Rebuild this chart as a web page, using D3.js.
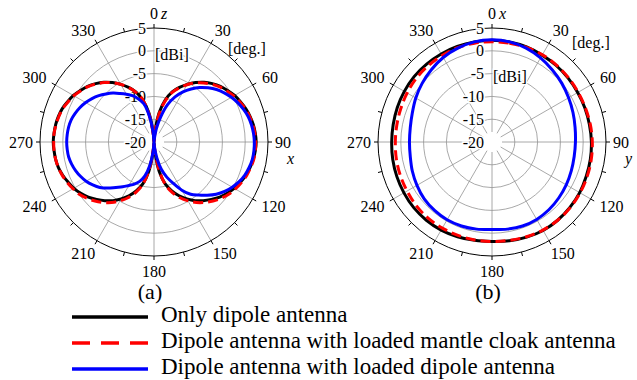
<!DOCTYPE html>
<html lang="en">
<meta charset="utf-8">
<head>
<script src="https://d3js.org/d3.v7.min.js"></script>
<style>
  body { margin: 0; background: #fff; }
  text { font-family: "Liberation Serif", "Times New Roman", serif; fill: #000; }
</style>
</head>
<body>
<script>
// angles (deg, clockwise from top)
var anglesA = d3.range(0, 360, 5);   // xz plane, 5 deg steps
var anglesB = d3.range(0, 360, 10);  // xy plane, 10 deg steps

// gain in dBi, (a) xz plane
var blackA = [-20, -18, -13.5, -10.5, -8.3, -6.8, -5.4, -4.1, -2.9, -1.9, -1.0, -0.3, 0.4, 0.9, 1.4, 1.8, 2.1, 2.3,
    2.4, 2.3, 2.1, 1.8, 1.4, 0.9, 0.3, -0.4, -1.2, -2.2, -3.2, -4.3, -5.6, -7.0, -8.6, -10.5, -13.5, -18,
    -20, -18, -13.5, -10.5, -8.6, -7.0, -5.6, -4.3, -3.2, -2.2, -1.2, -0.4, 0.3, 0.8, 1.3, 1.7, 1.9, 2.0,
    2.1, 2.0, 1.9, 1.7, 1.4, 0.9, 0.4, -0.3, -1.0, -1.9, -2.9, -4.1, -5.4, -6.8, -8.3, -10.5, -13.5, -18];
var redA = [-20, -18.5, -14, -10.8, -8.5, -6.9, -5.5, -4.2, -3.1, -2.1, -1.2, -0.5, 0.2, 0.8, 1.3, 1.7, 2.0, 2.2,
    2.3, 2.3, 2.2, 1.9, 1.6, 1.1, 0.6, 0.0, -0.8, -1.7, -2.7, -3.8, -5.1, -6.5, -8.2, -10.3, -14, -18.5,
    -20, -18.5, -14, -10.3, -8.2, -6.5, -5.1, -3.8, -2.7, -1.7, -0.8, 0.0, 0.5, 1.0, 1.4, 1.7, 1.9, 2.0,
    2.0, 2.0, 1.8, 1.6, 1.3, 0.8, 0.3, -0.4, -1.1, -2.0, -3.0, -4.1, -5.4, -6.8, -8.4, -10.4, -14, -18.5];
var blueA = [-20, -19.5, -17, -14.3, -11.3, -9.1, -7.3, -5.8, -4.4, -3.2, -2.1, -1.2, -0.4, 0.3, 0.9, 1.4, 1.7, 1.9,
    2.0, 2.0, 1.9, 1.6, 1.2, 0.6, -0.2, -1.1, -2.2, -3.5, -4.8, -6.0, -7.8, -10, -11.8, -13.8, -16.5, -19,
    -20, -18, -14.8, -12.3, -10.8, -9.8, -9, -8, -7, -5.7, -4.5, -3.6, -2.8, -2.2, -1.7, -1.3, -1.0, -0.9,
    -0.85, -0.9, -1.0, -1.2, -1.6, -2.1, -2.7, -3.4, -4.2, -5.1, -6.0, -7.0, -7.9, -8.8, -9.9, -11.3, -14.3, -18];

// (b) xy plane
var blackB = [2.3, 2.3, 2.2, 2.0, 1.9, 1.8, 1.7, 1.7, 1.7, 1.8, 1.9, 2.0, 2.2, 2.3, 2.4, 2.4, 2.2, 2.0,
    1.8, 1.9, 2.1, 2.3, 2.4, 2.4, 2.3, 2.2, 2.1, 2.0, 2.0, 2.1, 2.2, 2.3, 2.3, 2.3, 2.3, 2.3];
var redB = [2.0, 2.0, 2.1, 2.1, 2.0, 1.9, 1.8, 1.8, 1.9, 2.0, 2.1, 2.2, 2.3, 2.4, 2.4, 2.3, 2.1, 1.9,
    1.8, 1.8, 1.8, 1.8, 1.8, 1.7, 1.5, 1.4, 1.3, 1.2, 1.2, 1.3, 1.5, 1.7, 1.8, 1.9, 2.0, 2.0];
var blueB = [2.4, 2.3, 1.9, 1.3, 0.6, 0.0, -0.6, -1.1, -1.5, -1.7, -1.7, -1.5, -1.2, -0.9, -0.6, -0.4, -0.4, -0.6,
    -0.8, -0.6, -0.4, -0.3, -0.4, -0.6, -1.0, -1.4, -1.8, -1.9, -1.8, -1.4, -0.7, 0.0, 0.7, 1.4, 1.9, 2.3];

var ringTicks = [5, 0, -5, -10, -15, -20];
var angleTicks = [0, 30, 60, 90, 120, 150, 180, 210, 240, 270, 300, 330];
var legendNames = ["Only dipole antenna", "Dipole antenna with loaded mantle cloak antenna", "Dipole antenna with loaded dipole antenna"];

var width = 637, height = 380;
var R = 114;

var svg = d3.select("body").append("svg")
    .attr("width", width)
    .attr("height", height);

svg.append("rect").attr("width", width).attr("height", height).attr("fill", "#fff");

var r = d3.scaleLinear().domain([-20, 5]).range([0, R]).clamp(true);

function rad(d) { return d * Math.PI / 180 }

function polar(cx, cy, cfg) {
    var g = svg.append("g").attr("transform", "translate(" + cx + "," + cy + ")");

    // rings
    g.selectAll(".ring")
        .data([-15, -10, -5, 0])
        .enter().append("circle")
        .attr("r", function(d) { return r(d) })
        .attr("fill", "none")
        .attr("stroke", "#939393")
        .attr("stroke-width", 0.8);

    // spokes
    g.selectAll(".spoke")
        .data(angleTicks)
        .enter().append("line")
        .attr("x1", function(d) { return 10 * Math.sin(rad(d)) })
        .attr("y1", function(d) { return -10 * Math.cos(rad(d)) })
        .attr("x2", function(d) { return R * Math.sin(rad(d)) })
        .attr("y2", function(d) { return -R * Math.cos(rad(d)) })
        .attr("stroke", "#939393")
        .attr("stroke-width", 0.8);

    // outer circle + ticks
    g.append("circle").attr("r", R).attr("fill", "none").attr("stroke", "#000").attr("stroke-width", 1);
    g.selectAll(".tick")
        .data(d3.range(0, 360, 15))
        .enter().append("line")
        .attr("x1", function(d) { return R * Math.sin(rad(d)) })
        .attr("y1", function(d) { return -R * Math.cos(rad(d)) })
        .attr("x2", function(d) { return (R + 4) * Math.sin(rad(d)) })
        .attr("y2", function(d) { return -(R + 4) * Math.cos(rad(d)) })
        .attr("stroke", "#000")
        .attr("stroke-width", 1);

    // angle labels
    g.selectAll(".alab")
        .data(angleTicks)
        .enter().append("text")
        .attr("x", function(d) {
            var s = Math.sin(rad(d)), c = Math.cos(rad(d));
            return s * (121 + String(d).length * 4) + s * Math.abs(c) * 10;
        })
        .attr("y", function(d) { return -129 * Math.cos(rad(d)) })
        .attr("text-anchor", "middle")
        .attr("dominant-baseline", "central")
        .style("font-size", "16px")
        .text(function(d) { return d });

    // axis letters
    g.append("text").attr("x", 7).attr("y", -129).attr("dominant-baseline", "central")
        .style("font-size", "16px").style("font-style", "italic").text(cfg.top);
    g.append("text").attr("x", 133).attr("y", 16).attr("dominant-baseline", "central")
        .style("font-size", "16px").style("font-style", "italic").text(cfg.right);

    // ring labels
    g.selectAll(".rlab")
        .data(ringTicks)
        .enter().append("text")
        .attr("x", -8)
        .attr("y", function(d) { return -r(d) })
        .attr("text-anchor", "end")
        .attr("dominant-baseline", "central")
        .style("font-size", "16px")
        .style("stroke", "#fff").style("stroke-width", 3).style("paint-order", "stroke")
        .text(function(d) { return d });

    g.append("text").attr("x", 1).attr("y", cfg.dbiY).attr("dominant-baseline", "central")
        .style("font-size", "16px")
        .style("stroke", "#fff").style("stroke-width", 3).style("paint-order", "stroke")
        .text("[dBi]");
    g.append("text").attr("x", cfg.degX).attr("y", cfg.degY).attr("dominant-baseline", "central")
        .style("font-size", "16px").text("[deg.]");

    var line = d3.lineRadial()
        .angle(function(d) { return rad(d.a) })
        .radius(function(d) { return r(d.v) })
        .curve(d3.curveCatmullRomClosed.alpha(0.5));

    function pts(angles, vals) {
        return angles.map(function(a, i) { return {a: a, v: vals[i]} });
    }

    g.append("path").datum(pts(cfg.angles, cfg.black))
        .attr("d", line).attr("fill", "none").attr("stroke", "#000").attr("stroke-width", 3);
    g.append("path").datum(pts(cfg.angles, cfg.red))
        .attr("d", line).attr("fill", "none").attr("stroke", "#f00").attr("stroke-width", 3)
        .attr("stroke-dasharray", "10,5");
    g.append("path").datum(pts(cfg.angles, cfg.blue))
        .attr("d", line).attr("fill", "none").attr("stroke", "#0000ff").attr("stroke-width", 3);

    g.append("text").attr("x", -4).attr("y", 157)
        .attr("text-anchor", "middle")
        .style("font-size", "22px").text(cfg.caption);
}

polar(154, 142, {angles: anglesA, black: blackA, red: redA, blue: blueA, top: "z", right: "x",
    dbiY: -r(0) + 4, degX: 74, degY: -94, caption: "(a)"});
polar(492, 142, {angles: anglesB, black: blackB, red: redB, blue: blueB, top: "x", right: "y",
    dbiY: -r(-5) + 3, degX: 80, degY: -100, caption: "(b)"});

// legend
var colors = ["#000", "#f00", "#0000ff"];
var dashes = [null, "18,11", null];
var leg = svg.append("g");
legendNames.forEach(function(name, i) {
    var y = 317 + i * 26;
    leg.append("line").attr("x1", 72).attr("x2", 148).attr("y1", y).attr("y2", y)
        .attr("stroke", colors[i]).attr("stroke-width", 3.5)
        .attr("stroke-dasharray", dashes[i]);
    leg.append("text").attr("x", 161).attr("y", y + 5)
        .style("font-size", "23px").text(name);
});
</script>
</body>
</html>
